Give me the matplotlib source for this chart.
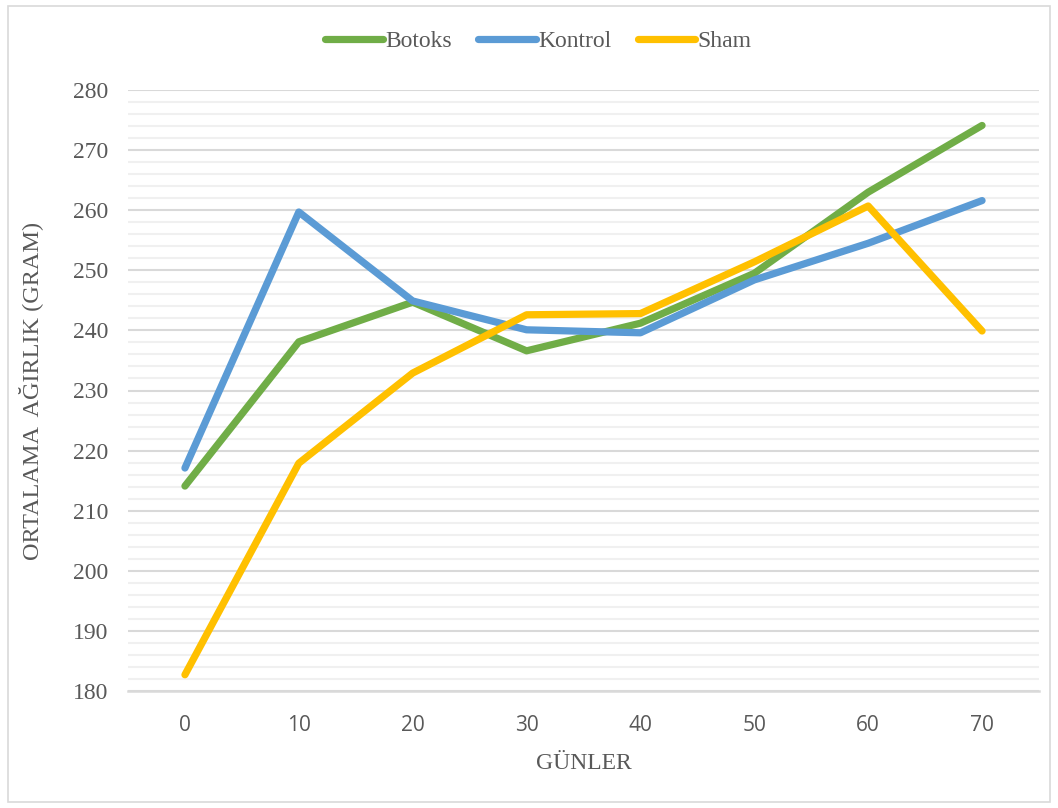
import numpy as np
import matplotlib.pyplot as plt
from matplotlib.patches import Rectangle

# gün ve ortalama ağırlık verileri
gunler = [0, 10, 20, 30, 40, 50, 60, 70]
botoks = [214.1, 238.1, 244.7, 236.6, 241.2, 249.5, 263.0, 274.1]
kontrol = [217.1, 259.7, 244.9, 240.1, 239.6, 248.4, 254.5, 261.6]
sham = [182.7, 217.9, 232.9, 242.6, 242.8, 251.4, 260.7, 239.9]

seriler = [("Botoks", botoks, "#70ad47"),
           ("Kontrol", kontrol, "#5b9bd5"),
           ("Sham", sham, "#ffc000")]

yazi_renk = "#595959"
serif = ["Liberation Serif", "DejaVu Serif"]

fig = plt.figure(figsize=(10.58, 8.08), dpi=100)
ax = fig.add_axes([128 / 1058, 1 - 691 / 808, (1039 - 128) / 1058, (691 - 90) / 808])

# dış çerçeve
fig.patches.append(Rectangle((8 / 1058, 6 / 808), 1042 / 1058, 796 / 808,
                             transform=fig.transFigure, fill=False,
                             edgecolor="#d9d9d9", linewidth=1.2))

for ad, deger, renk in seriler:
    ax.plot(gunler, deger, color=renk, linewidth=5.2, label=ad,
            solid_capstyle="round", solid_joinstyle="round", zorder=3)

ax.set_xlim(-5, 75)
ax.set_ylim(180, 280)
ax.set_xticks(gunler)
ax.set_yticks(np.arange(180, 281, 10))
ax.set_yticks(np.arange(180, 281, 2), minor=True)
ax.grid(axis="y", which="major", color="#d9d9d9", linewidth=1.5, zorder=0)
ax.grid(axis="y", which="minor", color="#f0f0f0", linewidth=1.5, zorder=0)
ax.grid(axis="x", visible=False)

for s in ["top", "right", "left"]:
    ax.spines[s].set_visible(False)
ax.spines["bottom"].set_color("#d9d9d9")
ax.spines["bottom"].set_linewidth(1.8)
ax.tick_params(axis="both", which="both", length=0)
ax.tick_params(axis="x", pad=17, labelsize=15, labelcolor=yazi_renk)
ax.tick_params(axis="y", pad=14, labelsize=17, labelcolor=yazi_renk)
for t in ax.get_xticklabels():
    t.set_family(["Open Sans", "DejaVu Sans"])
for t in ax.get_yticklabels():
    t.set_family(serif)

ax.set_xlabel("GÜNLER", family=serif, fontsize=17, color=yazi_renk)
ax.xaxis.set_label_coords(0.5, -0.103)
ax.set_ylabel("ORTALAMA  AĞIRLIK (GRAM)", family=serif, fontsize=17.5,
              color=yazi_renk)
ax.yaxis.set_label_coords(-0.093, 0.5)

ax.legend(loc="center", bbox_to_anchor=(0.4506, 1.0815), ncol=3, frameon=False,
          prop={"family": serif, "size": 17}, labelcolor=yazi_renk,
          handlelength=2.45, handletextpad=0.1, columnspacing=1.1)

fig.savefig("out.png", dpi=100)
